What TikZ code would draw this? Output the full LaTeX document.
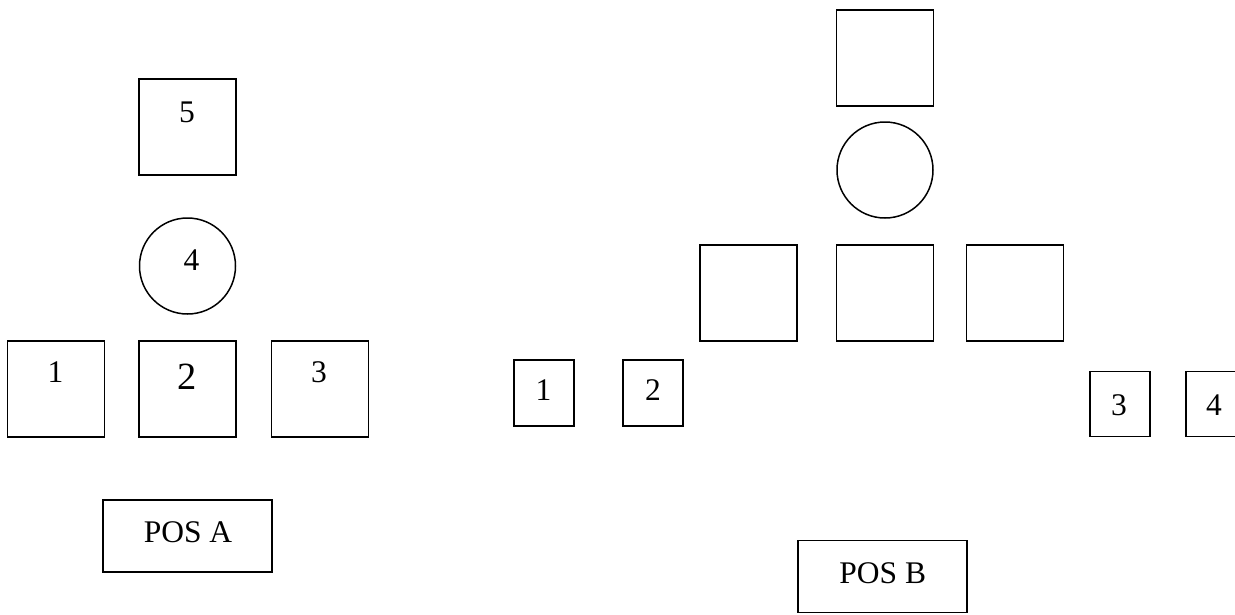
\documentclass[tikz,border=0pt]{standalone}
\usepackage{fontspec}
\setmainfont{Liberation Serif}
\begin{document}
\begin{tikzpicture}[x=1pt,y=-1pt,
  box/.style={draw,line width=1.8pt,rectangle,inner sep=0pt,minimum width=97pt,minimum height=96pt},
  sbox/.style={draw,line width=1.8pt,rectangle,inner sep=0pt,minimum width=60pt,minimum height=66pt},
  ring/.style={draw,line width=1.5pt,circle,inner sep=0pt,minimum size=96pt},
  posbox/.style={draw,line width=1.8pt,rectangle,inner sep=0pt,minimum width=169pt,minimum height=72pt},
  lbl/.style={inner sep=0pt,font=\fontsize{31.5}{31.5}\selectfont},
  biglbl/.style={inner sep=0pt,font=\fontsize{38.5}{38.5}\selectfont}]
\useasboundingbox (0,0) rectangle (1235,614);
% POS A
\node[box] (a5) at (187.5,127) {};
\node[lbl] (t5) at (187,112) {5};
\node[ring] (a4) at (187.5,266) {};
\node[lbl] (t4) at (191.5,260) {4};
\node[box] (a1) at (56,389) {};
\node[lbl] (t1) at (55.5,372) {1};
\node[box] (a2) at (187.5,389) {};
\node[biglbl] (t2) at (187.5,377) {2};
\node[box] (a3) at (320,389) {};
\node[lbl] (t3) at (319,372) {3};
\node[posbox] (pa) at (187.8,536.2) {};
\node[lbl] (tpa) at (188,532) {POS A};
% POS B
\node[box] (b5) at (885,58.3) {};
\node[ring] (b4) at (885,170) {};
\node[box] (b1) at (748.3,293) {};
\node[box] (b2) at (885,293) {};
\node[box] (b3) at (1015,293) {};
\node[sbox] (s1) at (544,393) {};
\node[lbl] (u1) at (543.5,390) {1};
\node[sbox] (s2) at (653,393) {};
\node[lbl] (u2) at (653,390) {2};
\node[sbox,minimum height=65pt] (s3) at (1120,404) {};
\node[lbl] (u3) at (1119,405) {3};
\node[sbox,minimum height=65pt] (s4) at (1216,404) {};
\node[lbl] (u4) at (1214,405) {4};
\node[posbox] (pb) at (882.8,576.5) {};
\node[lbl] (tpb) at (882.7,573) {POS B};
\end{tikzpicture}
\end{document}
